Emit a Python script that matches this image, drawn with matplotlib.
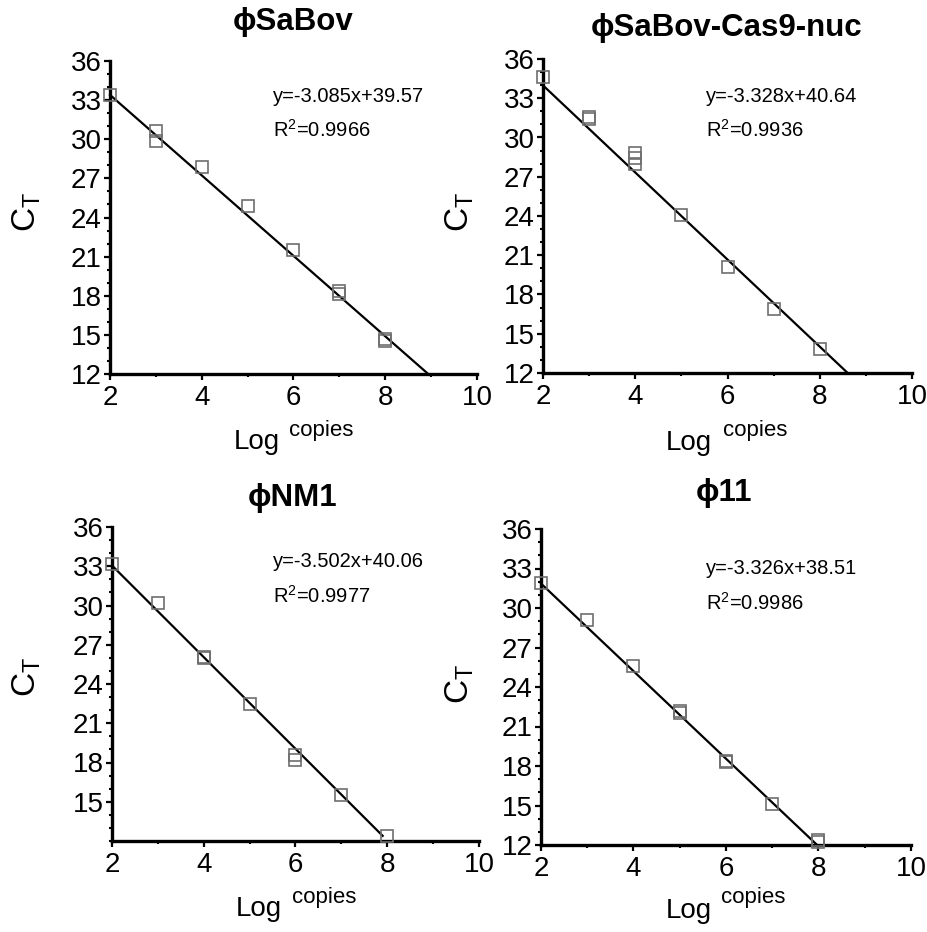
import matplotlib
matplotlib.use("Agg")
import matplotlib.pyplot as plt
from matplotlib.ticker import MultipleLocator, FixedLocator

plt.rcParams['font.family'] = ['Liberation Sans', 'DejaVu Sans']
plt.rcParams['mathtext.fontset'] = 'custom'
plt.rcParams['mathtext.rm'] = 'Liberation Sans'
plt.rcParams['mathtext.it'] = 'Liberation Sans'

# ---- data ----
titles = ["ϕSaBov", "ϕSaBov-Cas9-nuc", "ϕNM1", "ϕ11"]

sabov_x = [2, 3, 3, 4, 5, 6, 7, 7, 8, 8]
sabov_y = [33.4, 30.6, 29.9, 27.9, 24.9, 21.5, 18.4, 18.1, 14.7, 14.5]

cas9_x = [2, 3, 3, 4, 4, 4, 5, 6, 7, 8]
cas9_y = [34.6, 31.6, 31.4, 28.8, 28.4, 28.0, 24.1, 20.1, 16.9, 13.8]

nm1_x = [2, 3, 4, 4, 5, 6, 6, 7, 8]
nm1_y = [33.2, 30.2, 26.1, 26.0, 22.5, 18.6, 18.2, 15.5, 12.4]

p11_x = [2, 3, 4, 5, 5, 6, 6, 7, 8, 8]
p11_y = [31.9, 29.1, 25.6, 22.2, 22.0, 18.4, 18.3, 15.1, 12.4, 12.2]

slopes = [-3.085, -3.328, -3.502, -3.326]
intercepts = [39.57, 40.64, 40.06, 38.51]
r2 = ["0.9966", "0.9936", "0.9977", "0.9986"]
fit_xmin = [2, 2, 2, 2]
fit_xmax = [8.94, 8.6, 7.9, 7.97]

xticks = [2, 4, 6, 8, 10]
yticks_full = [12, 15, 18, 21, 24, 27, 30, 33, 36]
yticks_nm1 = [15, 18, 21, 24, 27, 30, 33, 36]

xs = [sabov_x, cas9_x, nm1_x, p11_x]
ys = [sabov_y, cas9_y, nm1_y, p11_y]
yticks_list = [yticks_full, yticks_full, yticks_nm1, yticks_full]

# ---- layout (pixel boxes: left, right, top, bottom) ----
W, H = 928, 932
boxes = [(110, 477, 61, 374), (543, 912, 59, 373),
         (112, 479, 527, 841), (541, 911, 529, 845)]
title_pos = [(293, 22), (727, 28), (293, 498), (724, 493)]
log_pos = [(257, 442), (689, 443), (259, 909), (689, 911)]
cop_pos = [(321, 431), (755, 431), (324, 897), (753, 897)]
ct_pos = [(27, 212), (460, 212), (27, 677), (460, 684)]
eq_pos = [(5.56, 33.3), (5.54, 33.1), (5.52, 33.4), (5.57, 33.0)]
r2_pos = [(5.56, 30.7), (5.54, 30.6), (5.52, 30.7), (5.57, 30.4)]

fig = plt.figure(figsize=(W / 100, H / 100), dpi=100)

def fx(x):
    return x / W

def fy(y):
    return 1 - y / H

for i in range(4):
    l, r, t, b = boxes[i]
    ax = fig.add_axes([fx(l), fy(b), (r - l) / W, (b - t) / H])
    ax.set_xlim(2, 10)
    ax.set_ylim(12, 36)
    for s in ['top', 'right']:
        ax.spines[s].set_visible(False)
    for s in ['left', 'bottom']:
        ax.spines[s].set_linewidth(2.4)
    ax.xaxis.set_major_locator(FixedLocator(xticks))
    ax.xaxis.set_minor_locator(MultipleLocator(1))
    ax.yaxis.set_major_locator(FixedLocator(yticks_list[i]))
    ax.yaxis.set_minor_locator(MultipleLocator(1))
    ax.tick_params(which='major', direction='out', length=4, width=1.6,
                   labelsize=20, pad=2)
    ax.tick_params(which='minor', direction='out', length=2.2, width=1.5)
    ax.tick_params(axis='x', which='major', pad=4)

    fx0, fx1 = fit_xmin[i], fit_xmax[i]
    ax.plot([fx0, fx1],
            [slopes[i] * fx0 + intercepts[i], slopes[i] * fx1 + intercepts[i]],
            color='black', lw=1.6, clip_on=False, zorder=3)
    ax.plot(xs[i], ys[i], linestyle='none', marker='s', markersize=8,
            markerfacecolor='none', markeredgecolor='#6e6e6e',
            markeredgewidth=1.2, clip_on=False, zorder=4)

    ax.text(eq_pos[i][0], eq_pos[i][1],
            "y=%.3fx+%.2f" % (slopes[i], intercepts[i]),
            fontsize=14.5, ha='left', va='center')
    ax.text(r2_pos[i][0], r2_pos[i][1], "R$^{2}$=" + r2[i],
            fontsize=14.5, ha='left', va='center')

    tx, ty = title_pos[i]
    fig.text(fx(tx), fy(ty), titles[i], fontsize=22.5, fontweight='bold',
             ha='center', va='center')
    lx, ly = log_pos[i]
    fig.text(fx(lx), fy(ly), "Log", fontsize=20, ha='center', va='center')
    cx, cy = cop_pos[i]
    fig.text(fx(cx), fy(cy), "copies", fontsize=16, ha='center', va='center')
    gx, gy = ct_pos[i]
    fig.text(fx(gx), fy(gy), r"$\mathregular{C_T}$", fontsize=24,
             rotation=90, ha='center', va='center')

fig.savefig("out.png", dpi=100)
